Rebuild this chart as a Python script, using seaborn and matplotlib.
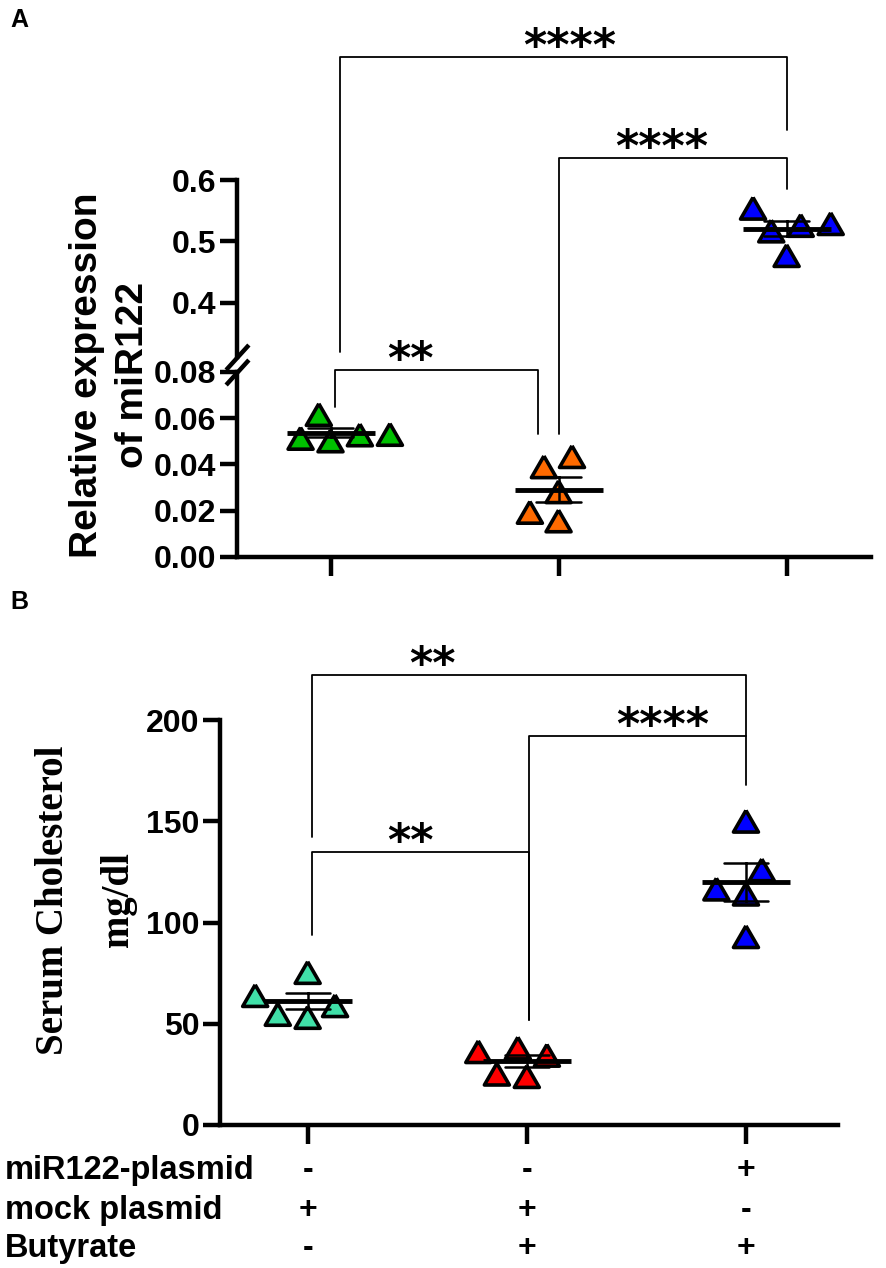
import numpy as np
import pandas as pd
import matplotlib
matplotlib.use('Agg')
import matplotlib.pyplot as plt
import seaborn as sns
from matplotlib.lines import Line2D
from matplotlib.ticker import FormatStrFormatter

sns.set_style('ticks', rc={'axes.edgecolor': 'black', 'xtick.color': 'black',
                           'ytick.color': 'black', 'text.color': 'black'})
plt.rcParams['font.family'] = ['Liberation Sans', 'DejaVu Sans']
plt.rcParams['font.weight'] = 'bold'

# ---- data ----
groups = ['G1', 'G2', 'G3']

mir_green = [0.0616, 0.0502, 0.0530, 0.0513, 0.0528]
mir_orange = [0.0434, 0.0390, 0.0282, 0.0156, 0.0193]
mir_blue = [0.554, 0.529, 0.517, 0.526, 0.477]

chol_green = [75.3, 58.9, 53.1, 63.9, 54.6]
chol_red = [38.0, 23.9, 34.4, 36.2, 25.1]
chol_blue = [150.0, 126.0, 116.5, 114.0, 93.0]

colors_a = ['#00C000', '#FF6A00', '#0000FF']
colors_b = ['#40E0A8', '#FF0000', '#0000FF']

yticks_a_top = [0.4, 0.5, 0.6]
yticks_a_bot = [0.00, 0.02, 0.04, 0.06, 0.08]
yticks_b = [0, 50, 100, 150, 200]

row_names = ['miR122-plasmid', 'mock plasmid', 'Butyrate']
row_signs = [['-', '-', '+'], ['+', '+', '-'], ['-', '+', '+']]

df_a = pd.DataFrame({'group': np.repeat(groups, 5),
                     'value': mir_green + mir_orange + mir_blue})
df_b = pd.DataFrame({'group': np.repeat(groups, 5),
                     'value': chol_green + chol_red + chol_blue})

# equilateral triangle marker
tri = [(0, 0.866), (-1, -0.866), (1, -0.866), (0, 0.866)]

fig = plt.figure(figsize=(8.86, 12.68), dpi=100)
W, H = 886, 1268

ax_top = fig.add_axes([237 / W, 1 - 357 / H, 634 / W, 177 / H])
ax_bot = fig.add_axes([237 / W, 1 - 557 / H, 634 / W, 185 / H])
ax_b = fig.add_axes([220 / W, 1 - 1125 / H, 618 / W, 405 / H])


def dots(ax, df, pal):
    sns.swarmplot(data=df, x='group', y='value', hue='group', order=groups,
                  palette=pal, marker=tri, size=18, edgecolor='black',
                  linewidth=2.6, legend=False, ax=ax, zorder=2)
    sns.pointplot(data=df, x='group', y='value', order=groups,
                  estimator='mean', errorbar='se', capsize=0.2,
                  color='black', marker='_', markersize=64,
                  markeredgewidth=3.5, linestyle='none',
                  err_kws={'linewidth': 1.8, 'zorder': 4}, zorder=4, ax=ax)


for ax in (ax_top, ax_bot):
    dots(ax, df_a, colors_a)
    ax.set_xlim(-0.41, 2.37)
dots(ax_b, df_b, colors_b)
ax_b.set_xlim(-0.40, 2.42)

ax_top.set_ylim(0.312, 0.6)
ax_bot.set_ylim(0, 0.08)
ax_b.set_ylim(0, 200)
ax_top.set_yticks(yticks_a_top)
ax_bot.set_yticks(yticks_a_bot)
ax_b.set_yticks(yticks_b)
ax_top.yaxis.set_major_formatter(FormatStrFormatter('%.1f'))
ax_bot.yaxis.set_major_formatter(FormatStrFormatter('%.2f'))

for ax in (ax_top, ax_bot, ax_b):
    ax.set_xlabel('')
    ax.set_ylabel('')
    sns.despine(ax=ax)
    for s in ('left', 'bottom'):
        ax.spines[s].set_linewidth(3.2)
    ax.tick_params(axis='y', length=12, width=3.2, labelsize=23, pad=3)
    ax.tick_params(axis='x', length=14, width=3.2, labelbottom=False)
    ax.set_xticks([0, 1, 2])
    ax.patch.set_alpha(0)

ax_top.spines['bottom'].set_visible(False)
ax_top.tick_params(axis='x', length=0)

# axis break marks
for ax, yy in ((ax_top, 0), (ax_bot, 1)):
    ax.plot([0], [yy], transform=ax.transAxes, marker=[(-1, -1.1), (1, 1.1)],
            markersize=18, markeredgewidth=3.2, color='black', clip_on=False)


def fxy(ax, x, y):
    return fig.transFigure.inverted().transform(ax.transData.transform((x, y)))


def bracket(pts, label, tx):
    xy = np.array([fxy(a, x, y) for a, x, y in pts])
    fig.add_artist(Line2D(xy[:, 0], xy[:, 1], transform=fig.transFigure,
                          color='black', linewidth=1.3))
    a, _, y = pts[1]
    px, py = fxy(a, tx, y)
    fig.text(px, py - 3 / H, label, ha='center', va='baseline', fontsize=32,
             family=['DejaVu Sans'])


# panel A significance brackets
bracket([(ax_bot, 0.04, 0.0887), (ax_top, 0.04, 0.80), (ax_top, 2.0, 0.80),
         (ax_top, 2.0, 0.681)], '****', 1.05)
bracket([(ax_bot, 1.0, 0.0532), (ax_top, 1.0, 0.636), (ax_top, 2.0, 0.636),
         (ax_top, 2.0, 0.586)], '****', 1.45)
bracket([(ax_bot, 0.02, 0.065), (ax_bot, 0.02, 0.081), (ax_bot, 0.91, 0.081),
         (ax_bot, 0.91, 0.0532)], '**', 0.35)

# panel B significance brackets
bracket([(ax_b, 0.02, 142), (ax_b, 0.02, 222), (ax_b, 2.0, 222),
         (ax_b, 2.0, 192)], '**', 0.57)
bracket([(ax_b, 1.01, 52), (ax_b, 1.01, 192), (ax_b, 2.0, 192),
         (ax_b, 2.0, 168)], '****', 1.62)
bracket([(ax_b, 0.02, 94), (ax_b, 0.02, 135), (ax_b, 1.01, 135),
         (ax_b, 1.01, 52)], '**', 0.47)

# y labels
fig.text(110 / W, 1 - 375 / H, 'Relative expression\nof miR122', rotation=90,
         ha='center', va='center', multialignment='center', fontsize=28,
         linespacing=1.38)
fig.text(86 / W, 1 - 900 / H, 'Serum Cholesterol\nmg/dl', rotation=90,
         ha='center', va='center', multialignment='center', fontsize=28,
         family=['Liberation Serif', 'DejaVu Serif'], linespacing=2.0)

# panel letters
fig.text(10 / W, 1 - 20 / H, 'A', fontsize=18, va='center')
fig.text(10 / W, 1 - 602 / H, 'B', fontsize=18, va='center')

# treatment table under panel B
row_y = [1170, 1210, 1248]
for name, signs, yp in zip(row_names, row_signs, row_y):
    fig.text(5 / W, 1 - yp / H, name, fontsize=23.5, va='center')
    for gi, s in enumerate(signs):
        px, _ = fxy(ax_b, gi, 0)
        fig.text(px, 1 - yp / H, s, fontsize=23, ha='center', va='center')

fig.savefig('out.png', dpi=100)
